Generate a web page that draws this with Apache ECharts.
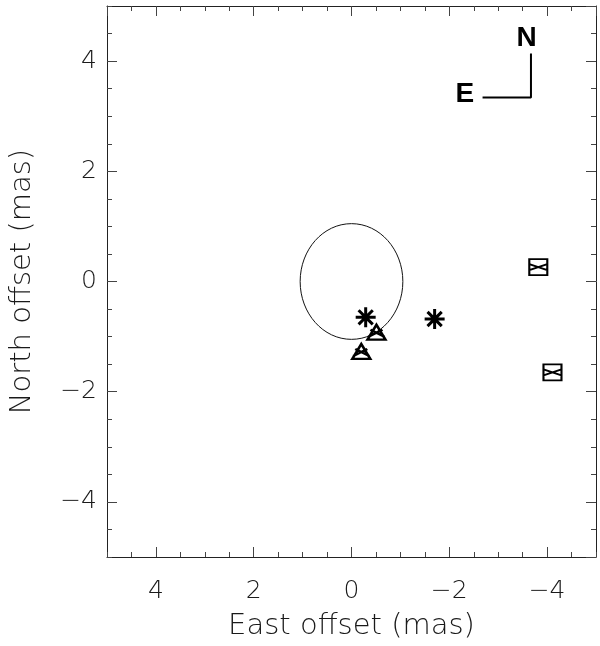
<!DOCTYPE html>
<html>
<head>
<meta charset="utf-8">
<script src="https://cdn.jsdelivr.net/npm/echarts@6/dist/echarts.min.js"></script>
<style>html,body{margin:0;padding:0;background:#fff}#c{width:600px;height:646px}</style>
</head>
<body>
<div id="c"></div>
<script>
// ---- data (mas) ----
var asterisks = [[-0.29, -0.65], [-1.70, -0.68]];
var triangles = [[-0.51, -0.92], [-0.20, -1.27]];
var squares   = [[-3.82, 0.26], [-4.11, -1.65]];
var circleRef = [[0, 0, 1.05]];           // centre x, centre y, radius
var compassLine = [[-2.68, 3.34], [-3.67, 3.34], [-3.67, 4.14]];
var compassText = [{name: 'N', value: [-3.58, 4.41]}, {name: 'E', value: [-2.32, 3.40]}];
var axisMin = -5, axisMax = 5;
var xTitle = 'East offset (mas)';
var yTitle = 'North offset (mas)';

var FONT = 'DejaVu Sans';
var TXT = '#1a1a1a';
function fmt(v) { return v < 0 ? '\u2212' + Math.abs(v) : String(v); }

function majorAxis(pos, isX, withLabels) {
  var a = {
    type: 'value', min: axisMin, max: axisMax, position: pos, splitNumber: 5,
    inverse: isX,
    axisLine: {show: true, onZero: false, lineStyle: {color: '#222', width: 1}},
    axisTick: {show: true, inside: true, length: 10, lineStyle: {color: '#444', width: 1}},
    splitLine: {show: false},
    axisLabel: {show: withLabels, showMinLabel: false, showMaxLabel: false,
      formatter: fmt, fontFamily: FONT, fontWeight: 200, fontSize: 25, color: TXT,
      margin: isX ? 22 : 10}
  };
  if (withLabels) {
    a.name = isX ? xTitle : yTitle;
    a.nameLocation = 'middle';
    a.nameGap = isX ? 55 : 70;
    a.nameTextStyle = {fontFamily: FONT, fontWeight: 200, fontSize: 29, color: TXT};
  }
  return a;
}
function minorAxis(pos, isX) {
  return {
    type: 'value', min: axisMin, max: axisMax, interval: 0.5, position: pos,
    inverse: isX,
    axisLine: {show: false, onZero: false},
    axisTick: {show: true, inside: true, length: 5, lineStyle: {color: '#444', width: 1}},
    splitLine: {show: false},
    axisLabel: {show: false}
  };
}

var chart = echarts.init(document.getElementById('c'), null, {renderer: 'canvas'});
var symStar = 'path://M0,-10L0,10M-10,0L10,0M-7.1,-7.1L7.1,7.1M-7.1,7.1L7.1,-7.1';
var symTri = 'path://M-9,7L0,-8L9,7ZM-8,4L6,-3M-6,-3L8,4';
var symSq = 'path://M-9,-8L9,-8L9,8L-9,8ZM-9,-3L9,3M-9,3L9,-3';

chart.setOption({
  animation: false,
  grid: {left: 107, right: 4, top: 6, bottom: 89, containLabel: false},
  xAxis: [majorAxis('bottom', true, true), minorAxis('bottom', true),
          majorAxis('top', true, false), minorAxis('top', true)],
  yAxis: [majorAxis('left', false, true), minorAxis('left', false),
          majorAxis('right', false, false), minorAxis('right', false)],
  series: [
    {
      type: 'custom', xAxisIndex: 0, yAxisIndex: 0, data: circleRef,
      renderItem: function (params, api) {
        var c = api.coord([api.value(0), api.value(1)]);
        var s = api.size([api.value(2), api.value(2)]);
        return {type: 'ellipse', shape: {cx: c[0], cy: c[1], rx: Math.abs(s[0]), ry: Math.abs(s[1])},
          style: {fill: 'none', stroke: '#111', lineWidth: 1}};
      }
    },
    {
      type: 'line', data: compassLine, symbol: 'none', silent: true,
      lineStyle: {color: '#000', width: 2}
    },
    {
      type: 'scatter', data: compassText, symbolSize: 0, silent: true,
      itemStyle: {opacity: 1},
      label: {show: true, position: 'inside', formatter: '{b}', fontFamily: 'Liberation Sans',
        fontWeight: 'bold', fontSize: 28, color: '#000', textBorderWidth: 0}
    },
    {
      type: 'scatter', data: asterisks, symbol: symStar, symbolSize: 20, symbolKeepAspect: true,
      itemStyle: {color: 'none', borderColor: '#000', borderWidth: 3, opacity: 1}
    },
    {
      type: 'scatter', data: triangles, symbol: symTri, symbolSize: [18, 15],
      itemStyle: {color: 'none', borderColor: '#000', borderWidth: 2.5, opacity: 1}
    },
    {
      type: 'scatter', data: squares, symbol: symSq, symbolSize: [18, 16],
      itemStyle: {color: 'none', borderColor: '#000', borderWidth: 2, opacity: 1}
    }
  ]
});
</script>
</body>
</html>
